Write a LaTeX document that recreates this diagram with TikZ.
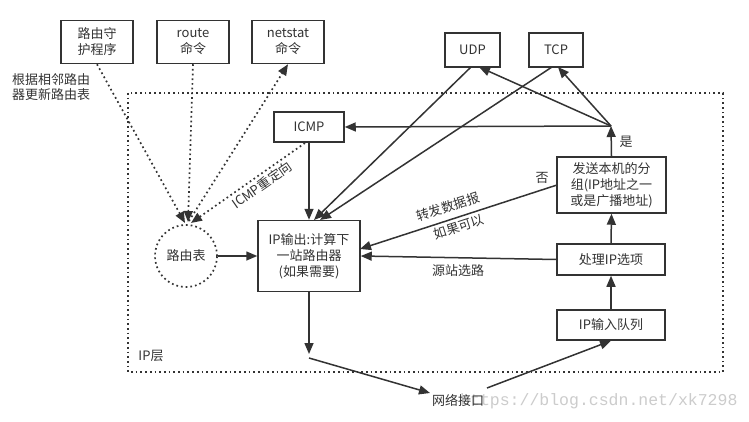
\documentclass[tikz,border=0pt]{standalone}
\usepackage{fontspec}
\setmainfont{Noto Sans CJK SC}
\newfontfamily\wmfont{Liberation Mono}
\usetikzlibrary{arrows.meta}
\definecolor{ink}{HTML}{333333}
\begin{document}
\begin{tikzpicture}[x=1pt,y=-1pt,
  every node/.style={font=\fontsize{13}{16}\selectfont,text=ink},
  box/.style={draw=ink,line width=1.5pt,inner sep=0pt,align=center},
  lbl/.style={inner sep=0pt,align=center},
  tip/.style={-{Triangle[length=11pt,width=9pt]}},
  arr/.style={draw=ink,line width=1.5pt,tip},
  dots/.style={draw=ink,line width=1.7pt,dash pattern=on 1.7pt off 3pt},
  darr/.style={dots,tip}]
\fill[white] (0,0) rectangle (749,422);
\useasboundingbox (0,0) rectangle (749,422);

% watermark
\node[lbl,anchor=west,text=gray!40,font=\wmfont\fontsize{16.5}{18}\selectfont] (wm) at (460,401) {https://blog.csdn.net/xk7298};

% IP layer frame
\draw[dots] (128,93) rectangle (723,372);
\node[lbl] (iplayer) at (151,356) {IP层};

% top boxes
\node[box,minimum width=72pt,minimum height=43pt] (rd) at (97,42) {路由守\\护程序};
\node[box,minimum width=72pt,minimum height=43pt] (route) at (193,42) {route\\命令};
\node[box,minimum width=72pt,minimum height=43pt] (netstat) at (288,42) {netstat\\命令};
\node[lbl,anchor=west,align=left,font=\fontsize{13}{15}\selectfont] (upd) at (12,87) {根据相邻路由\\器更新路由表};

\node[box,minimum width=55pt,minimum height=34pt] (udp) at (472.5,50) {UDP};
\node[box,minimum width=54pt,minimum height=34pt] (tcp) at (556,50) {TCP};

\node[box,minimum width=70pt,minimum height=30pt] (icmp) at (309,127) {ICMP};
\node[box,minimum width=102pt,minimum height=71pt] (ipout) at (309,256) {IP输出:计算下\\一站路由器\\(如果需要)};
\node[draw=ink,line width=1.7pt,dash pattern=on 1.7pt off 3pt,circle,minimum size=62pt,inner sep=0pt] (rt) at (186,256) {路由表};

\node[box,minimum width=109pt,minimum height=56pt] (send) at (611.5,185) {发送本机的分\\组(IP地址之一\\或是广播地址)};
\node[box,minimum width=108pt,minimum height=31pt] (opt) at (611,259.5) {处理IP选项};
\node[box,minimum width=108pt,minimum height=30pt] (inq) at (611,325) {IP输入队列};

\node[lbl] (net) at (458,400) {网络接口};

% coordinates
\coordinate (j) at (611,126);
\coordinate (udpin) at (479,67);
\coordinate (udpout) at (471,67);
\coordinate (tcpin) at (558,67);
\coordinate (tcpout) at (552,67);
\coordinate (ipa) at (314,220);
\coordinate (ipb) at (320,220);
\coordinate (fwd) at (360,249);
\coordinate (sendw) at (557,185);
\coordinate (o1) at (309,354);
\coordinate (o2) at (309,358);
\coordinate (n1) at (430,393);
\coordinate (n2) at (487,388);
\coordinate (c1) at (185,223);
\coordinate (c2) at (188,222);
\coordinate (c3) at (191,223);
\coordinate (c4) at (189,221);
\coordinate (icmpsw) at (305,143);

% solid arrows
\draw[arr] (send.north) -- (j);
\draw[arr] (j) -- (icmp.east);
\draw[arr] (j) -- (udpin);
\draw[arr] (j) -- (tcpin);
\draw[arr] (udpout) -- (ipa);
\draw[arr] (tcpout) -- (ipb);
\draw[arr] (icmp.south) -- (ipout.north);
\draw[arr] (rt.east) -- (ipout.west);
\draw[arr] (sendw) -- (fwd);
\draw[arr] (opt.west) -- (ipout.east);
\draw[arr] (opt.north) -- (send.south);
\draw[arr] (inq.north) -- (opt.south);
\draw[arr] (ipout.south) -- (o1);
\draw[arr] (o2) -- (n1);
\draw[arr] (n2) -- (inq.south);

% dotted arrows
\draw[darr] (rd.south) -- (c1);
\draw[darr] (route.south) -- (c2);
\draw[darr] (icmpsw) -- (c3);
\draw[darr] (c4) -- (netstat.south);

% labels
\node[lbl] (yes) at (626,142) {是};
\node[lbl] (no) at (542,178) {否};
\node[lbl,rotate=18] (fw1) at (448,207) {转发数据报};
\node[lbl,rotate=18] (fw2) at (459,227) {如果可以};
\node[lbl] (srr) at (458,271) {源站选路};
\node[lbl,rotate=35] (redir) at (262,185) {ICMP重定向};
\end{tikzpicture}
\end{document}
